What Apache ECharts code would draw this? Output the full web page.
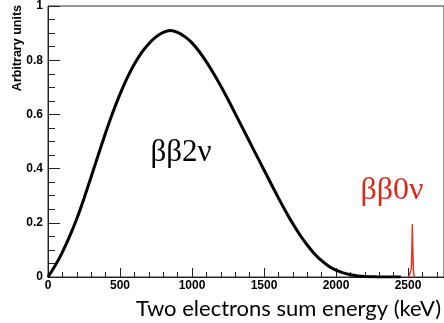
<!DOCTYPE html>
<html>
<head>
<meta charset="utf-8">
<script src="https://cdn.jsdelivr.net/npm/echarts@6/dist/echarts.min.js"></script>
<style>
  html, body { margin: 0; padding: 0; background: #fff; }
  #chart { width: 444px; height: 323px; }
</style>
</head>
<body>
<div id="chart"></div>
<script>
// 2νββ continuous spectrum (keV, arbitrary units)
const energy2nu = [0, 50, 100, 150, 200, 250, 300, 350, 400, 450, 500, 550, 600, 650, 700, 750, 800, 850, 900, 950,
  1000, 1050, 1100, 1150, 1200, 1250, 1300, 1350, 1400, 1450, 1500, 1550, 1600, 1650, 1700, 1750, 1800, 1850, 1900, 1950,
  2000, 2050, 2100, 2150, 2200, 2250, 2300, 2350, 2400, 2450];
const counts2nu = [0, 0.042, 0.092, 0.150, 0.215, 0.290, 0.370, 0.452, 0.532, 0.607, 0.675, 0.735, 0.786, 0.828, 0.861, 0.886, 0.903, 0.910, 0.903, 0.887,
  0.864, 0.832, 0.794, 0.751, 0.705, 0.655, 0.603, 0.551, 0.499, 0.447, 0.395, 0.343, 0.292, 0.243, 0.197, 0.155, 0.118, 0.086, 0.060, 0.040,
  0.025, 0.015, 0.008, 0.004, 0.002, 0.001, 0, 0, 0, 0];

// 0νββ peak
const energy0nu = [2505, 2518, 2523, 2527, 2530, 2533, 2537, 2542, 2555];
const counts0nu = [0, 0, 0.03, 0.11, 0.195, 0.11, 0.03, 0, 0];

const xTicks = { min: 0, max: 2750, interval: 500 };
const yTicks = { min: 0, max: 1, interval: 0.2 };

const zip = (xs, ys) => xs.map((x, i) => [x, ys[i]]);

const labelFont = { fontFamily: 'Liberation Sans', fontWeight: 'bold', fontSize: 12, color: '#000' };

const chart = echarts.init(document.getElementById('chart'), null, { renderer: 'canvas' });

chart.setOption({
  animation: false,
  backgroundColor: '#fff',
  // frame: top border visible, right border pushed just off the canvas
  grid: { left: 48, right: -1, top: 5, bottom: 46, containLabel: false,
    show: true, borderColor: '#333', borderWidth: 1, backgroundColor: 'transparent' },
  xAxis: {
    type: 'value',
    min: xTicks.min, max: xTicks.max, interval: xTicks.interval,
    axisLine: { show: true, onZero: false, lineStyle: { color: '#222', width: 1 } },
    axisTick: { show: true, inside: true, length: 9, lineStyle: { color: '#222' } },
    minorTick: { show: true, splitNumber: 5, length: 5, lineStyle: { color: '#222' } },
    axisLabel: Object.assign({ margin: 3, showMaxLabel: false, formatter: v => String(v) }, labelFont),
    splitLine: { show: false }
  },
  yAxis: {
    type: 'value',
    min: yTicks.min, max: yTicks.max, interval: yTicks.interval,
    axisLine: { show: true, onZero: false, lineStyle: { color: '#222', width: 1 } },
    axisTick: { show: true, inside: true, length: 12, lineStyle: { color: '#222' } },
    minorTick: { show: true, splitNumber: 4, length: 7, lineStyle: { color: '#222' } },
    axisLabel: Object.assign({ margin: 5, formatter: v => String(v) }, labelFont),
    splitLine: { show: false }
  },
  series: [{
    type: 'line',
    data: zip(energy2nu, counts2nu),
    smooth: 0.3,
    showSymbol: false,
    lineStyle: { color: '#000', width: 3 },
    z: 3
  }, {
    type: 'line',
    data: zip(energy0nu, counts0nu),
    showSymbol: false,
    lineStyle: { color: '#e0392a', width: 1.5 },
    z: 4
  }],
  graphic: [{
    type: 'text', x: 18, y: 5, rotation: Math.PI / 2,
    style: { text: 'Arbitrary units', font: 'bold 12.5px "Liberation Sans"', fill: '#000', align: 'right', verticalAlign: 'middle' }
  }, {
    type: 'text', x: 441, y: 309,
    style: { text: 'Two electrons sum energy (keV)', font: '22px Lato', fill: '#000', align: 'right', verticalAlign: 'middle' }
  }, {
    type: 'text', x: 181, y: 153,
    style: { text: 'ββ2ν', font: '31px "Liberation Serif"', fill: '#000', align: 'center', verticalAlign: 'middle' }
  }, {
    type: 'text', x: 392, y: 191,
    style: { text: 'ββ0ν', font: '32px "Liberation Serif"', fill: '#d42a1a', align: 'center', verticalAlign: 'middle' }
  }]
});
</script>
</body>
</html>
